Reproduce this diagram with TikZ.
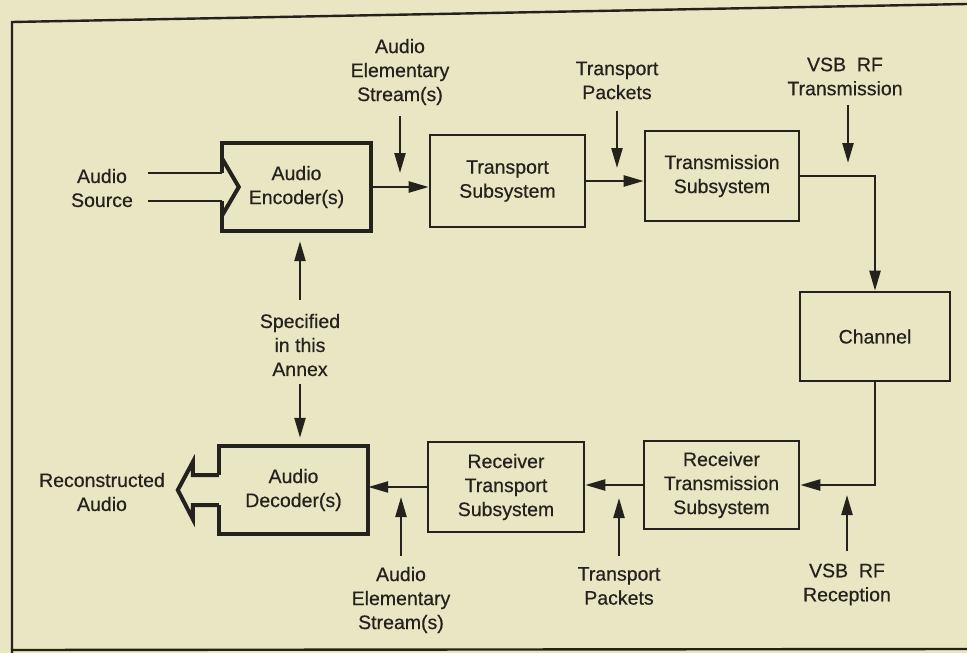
\documentclass[tikz,border=0pt]{standalone}
\usepackage{fontspec}
\setmainfont{Liberation Sans}[BoldFont={Liberation Sans}, BoldFeatures={FakeBold=0.5}]
\usetikzlibrary{arrows.meta,calc}
\definecolor{paper}{RGB}{233,230,195}
\definecolor{ink}{RGB}{36,34,28}
\begin{document}
\begin{tikzpicture}[x=1pt,y=-1pt,
  every node/.style={font=\fontsize{19.5}{24}\selectfont\bfseries, text=ink},
  blk/.style={draw=ink, line width=2.6pt, align=center, inner sep=0pt},
  ablk/.style={align=center, inner sep=0pt},
  heavy/.style={draw=ink, line width=4pt, line join=miter},
  lbl/.style={align=center, inner sep=0pt},
  conn/.style={draw=ink, line width=2.3pt},
  arr/.style={conn, -{Triangle[length=20pt,width=11pt]}},
  frame/.style={draw=ink, line width=2.4pt},
]
% page and frame
\fill[paper] (0,0) rectangle (967,653);
\useasboundingbox (0,0) rectangle (967,653);
\draw[frame] (967,4) -- (12,22) -- (12,653);
\draw[frame] (11,650) -- (967,649);

% blocks
\node[ablk, minimum width=149pt, minimum height=88pt] (enc) at (296.5,187) {Audio\\Encoder(s)};
\node[blk, minimum width=155pt, minimum height=92pt] (tr) at (507.5,181) {Transport\\Subsystem};
\node[blk, minimum width=154pt, minimum height=90pt] (tx) at (722,176) {Transmission\\Subsystem};
\node[blk, minimum width=150pt, minimum height=89pt] (ch) at (875,336.5) {Channel};
\node[blk, minimum width=155pt, minimum height=88pt] (rtx) at (721.5,485) {Receiver\\Transmission\\Subsystem};
\node[blk, minimum width=156pt, minimum height=90pt] (rtr) at (506,487) {Receiver\\Transport\\Subsystem};
\node[ablk, minimum width=149pt, minimum height=88pt] (dec) at (293.5,490) {Audio\\Decoder(s)};

% encoder outline with the notched input side
\draw[heavy] ($(enc.west)+(0,-14)$) -- (enc.north west) -- (enc.north east)
  -- (enc.south east) -- (enc.south west) -- ($(enc.west)+(0,14)$);
\draw[heavy] ($(enc.west)+(0,-29)$) -- ($(enc.west)+(17,0)$) -- ($(enc.west)+(0,29)$);

% decoder outline with the outgoing block arrow
\draw[heavy] ($(dec.west)+(0,-15)$) -- (dec.north west) -- (dec.north east)
  -- (dec.south east) -- (dec.south west) -- ($(dec.west)+(0,15)$);
\draw[heavy] ($(dec.west)+(0,-15)$) -- ($(dec.west)+(-26,-15)$) -- ($(dec.west)+(-26,-28)$)
  -- ($(dec.west)+(-41,0)$) -- ($(dec.west)+(-26,29)$) -- ($(dec.west)+(-26,15)$) -- ($(dec.west)+(0,15)$);

% labels
\node[lbl] (src) at (102,188) {Audio\\Source};
\node[lbl] (aesT) at (400,72) {Audio\\Elementary\\Stream(s)};
\node[lbl] (tpT) at (617,80.5) {Transport\\Packets};
\node[lbl] (vsbT) at (845,76.5) {VSB\ \ RF\\Transmission};
\node[lbl] (spec) at (300,345) {Specified\\in this\\Annex};
\node[lbl] (recon) at (102,492) {Reconstructed\\Audio};
\node[lbl] (aesB) at (401,600) {Audio\\Elementary\\Stream(s)};
\node[lbl] (tpB) at (619,586) {Transport\\Packets};
\node[lbl] (vsbR) at (847,584.5) {VSB\ \ RF\\Reception};

% audio source feed
\coordinate (srcA) at (148,173);
\coordinate (srcB) at (148,201);
\draw[conn] (srcA) -- (srcA -| enc.west);
\draw[conn] (srcB) -- (srcB -| enc.west);

% main signal chain
\draw[arr] (enc.east) -- (enc.east -| tr.west);
\draw[arr] (tr.east) -- (tr.east -| tx.west);
\draw[arr] (tx.east) -| (ch.north);
\draw[arr] (ch.south) |- (rtx.east);
\draw[arr] (rtx.west) -- (rtx.west -| rtr.east);
\draw[arr] (rtr.west) -- (rtr.west -| dec.east);

% side inputs
\coordinate (aesTtip) at (400,173);
\coordinate (tpTtip) at (617,168);
\coordinate (vsbTtip) at (848,163);
\coordinate (aesBtip) at (401,497);
\coordinate (tpBtip) at (619,498);
\coordinate (vsbRtip) at (847,495);
\draw[arr, shorten <=11pt] (aesT.south) -- (aesTtip);
\draw[arr, shorten <=11pt] (tpT.south) -- (tpTtip);
\draw[arr, shorten <=9pt] (vsbT.south -| vsbTtip) -- (vsbTtip);
\draw[arr, shorten <=11pt] (aesB.north) -- (aesBtip);
\draw[arr, shorten <=11pt] (tpB.north) -- (tpBtip);
\draw[arr, shorten <=12pt] (vsbR.north) -- (vsbRtip);

% scope markers for the specified blocks
\draw[arr, shorten <=14pt, shorten >=10pt] (spec.north) -- (spec.north |- enc.south);
\draw[arr, shorten <=8pt, shorten >=8pt] (spec.south) -- (spec.south |- dec.north);
\end{tikzpicture}
\end{document}
